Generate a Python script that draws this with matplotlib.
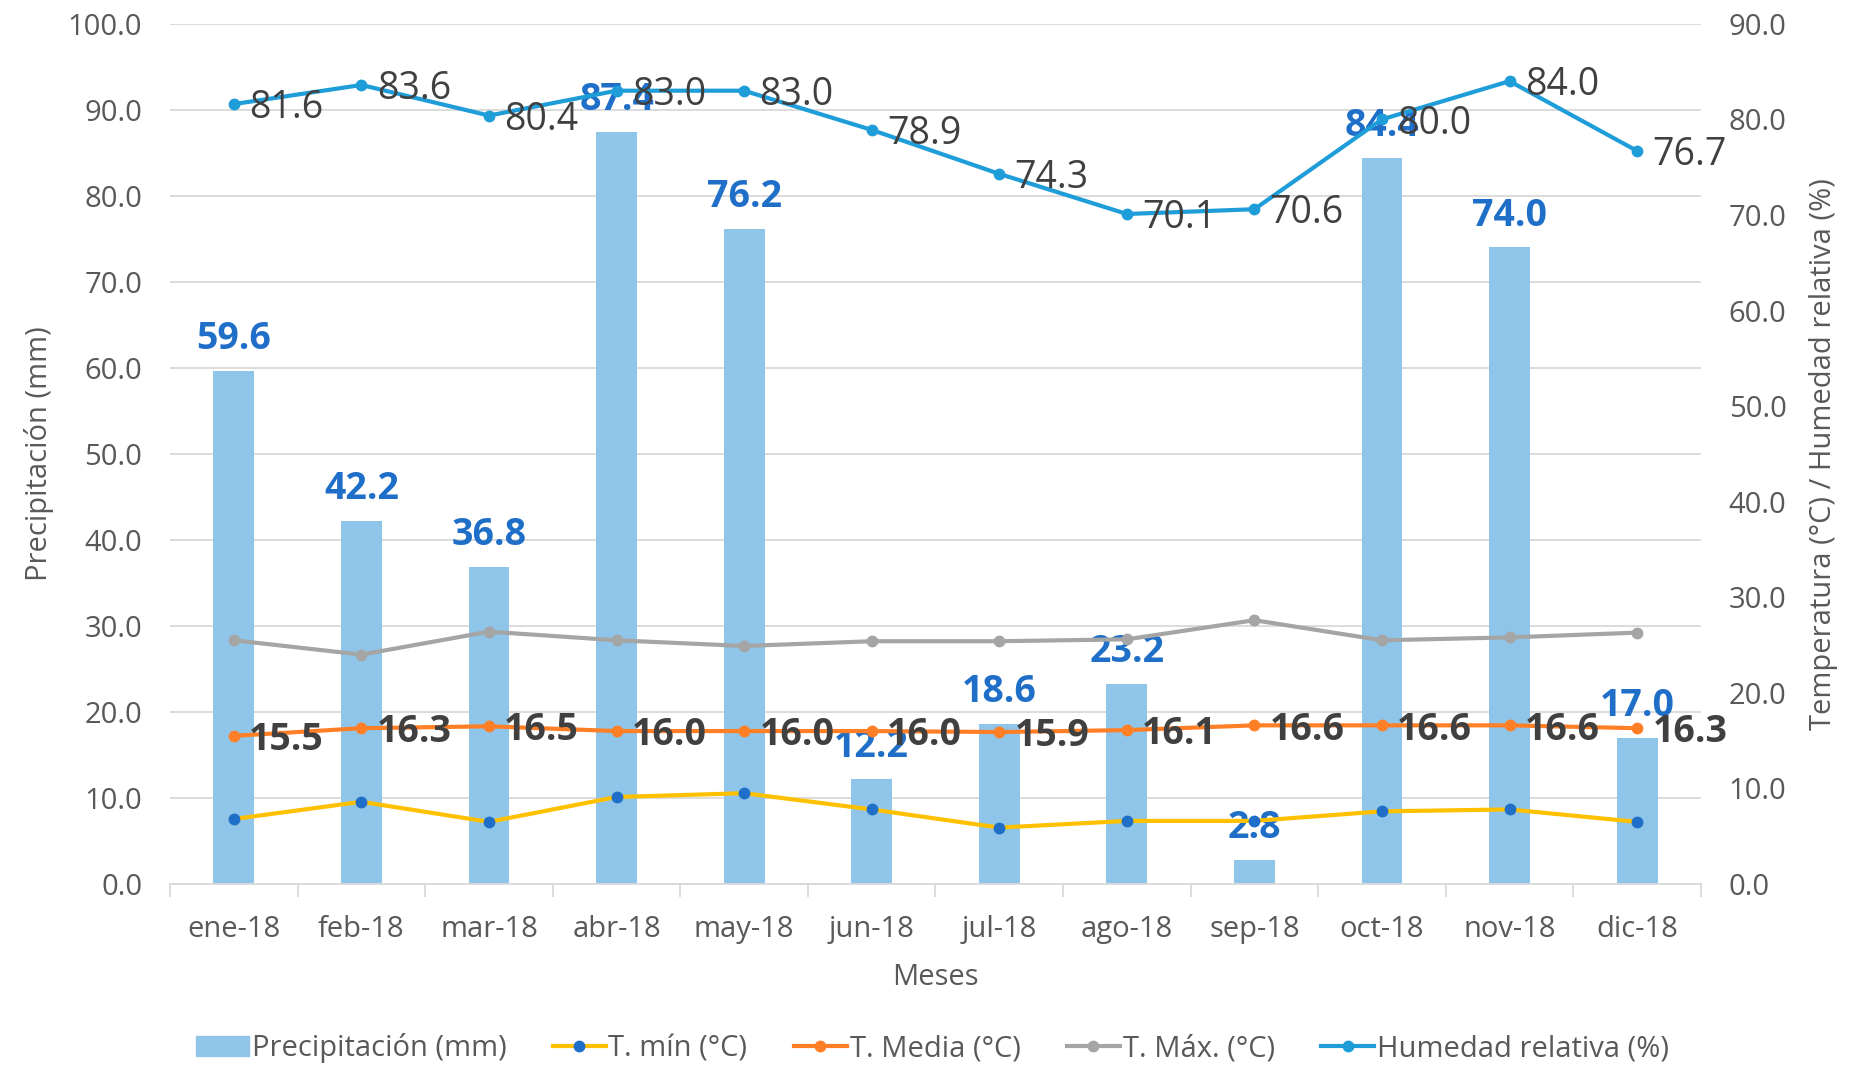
import matplotlib
matplotlib.use("Agg")
import matplotlib.pyplot as plt
import numpy as np
from matplotlib.patches import Patch
from matplotlib.lines import Line2D

plt.rcParams["font.family"] = ["Open Sans", "DejaVu Sans"]

meses = ["ene-18", "feb-18", "mar-18", "abr-18", "may-18", "jun-18",
         "jul-18", "ago-18", "sep-18", "oct-18", "nov-18", "dic-18"]
precip = [59.6, 42.2, 36.8, 87.4, 76.2, 12.2, 18.6, 23.2, 2.8, 84.4, 74.0, 17.0]
t_min = [6.8, 8.6, 6.5, 9.1, 9.5, 7.8, 5.9, 6.6, 6.6, 7.6, 7.8, 6.5]
t_media = [15.5, 16.3, 16.5, 16.0, 16.0, 16.0, 15.9, 16.1, 16.6, 16.6, 16.6, 16.3]
t_max = [25.5, 24.0, 26.4, 25.5, 24.9, 25.4, 25.4, 25.6, 27.6, 25.5, 25.8, 26.3]
humedad = [81.6, 83.6, 80.4, 83.0, 83.0, 78.9, 74.3, 70.1, 70.6, 80.0, 84.0, 76.7]

C_BAR = "#8FC5E8"
C_BARLBL = "#1F6FC8"
C_MIN = "#FFC000"
C_MINMK = "#1F6FC8"
C_MED = "#FF7F27"
C_MAX = "#A5A5A5"
C_HUM = "#1E9DD9"
C_TXT = "#595959"
C_LBL = "#404040"
C_GRID = "#D9D9D9"

FS = 21      # ticks, axis titles, legend
FS_LBL = 27  # data labels

x = np.arange(len(meses))

fig = plt.figure(figsize=(18.65, 10.82), dpi=100)
ax = fig.add_axes([0.0912, 0.183, 0.8208, 0.795])
ax2 = ax.twinx()

# bars on primary axis
ax.bar(x, precip, width=0.32, color=C_BAR, zorder=2)
for xi, v in zip(x, precip):
    ax.annotate(f"{v:.1f}", (xi, v), xytext=(0, 23), textcoords="offset points",
                ha="center", va="center", fontsize=FS_LBL, fontweight="bold",
                color=C_BARLBL, zorder=3)

ax.set_xlim(-0.5, len(meses) - 0.5)
ax.set_ylim(0, 100)
ax.set_yticks(np.arange(0, 101, 10))
ax.set_yticklabels([f"{v:.1f}" for v in np.arange(0, 101, 10)])
ax.yaxis.grid(True, color=C_GRID, linewidth=1.3, zorder=0)
ax.set_axisbelow(True)
ax.set_xticks(x)
ax.set_xticklabels(meses)
ax.set_xticks(np.arange(-0.5, len(meses)), minor=True)
ax.tick_params(axis="x", which="major", length=0, pad=22, labelsize=FS, labelcolor=C_TXT)
ax.tick_params(axis="x", which="minor", length=9, width=1.3, color=C_GRID)
ax.tick_params(axis="y", length=0, pad=20, labelsize=FS, labelcolor=C_TXT)
for s in ["top", "left", "right"]:
    ax.spines[s].set_visible(False)
ax.spines["bottom"].set_color(C_GRID)
ax.spines["bottom"].set_linewidth(1.3)
ax.set_ylabel("Precipitación (mm)", fontsize=FS, color=C_TXT, labelpad=10)
ax.set_xlabel("Meses", fontsize=FS, color=C_TXT, labelpad=14)

# lines on secondary axis
lw, ms = 3.0, 7.5
ax2.plot(x, t_min, color=C_MIN, lw=lw, marker="o", ms=ms,
         mfc=C_MINMK, mec=C_MINMK, zorder=3)
ax2.plot(x, t_media, color=C_MED, lw=lw, marker="o", ms=ms, zorder=3)
ax2.plot(x, t_max, color=C_MAX, lw=lw, marker="o", ms=ms, zorder=3)
ax2.plot(x, humedad, color=C_HUM, lw=lw, marker="o", ms=ms, zorder=3)

for xi, v in zip(x, t_media):
    ax2.annotate(f"{v:.1f}", (xi, v), xytext=(11, -3), textcoords="offset points",
                 ha="left", va="center", fontsize=FS_LBL, fontweight="bold", color=C_LBL)
for xi, v in zip(x, humedad):
    ax2.annotate(f"{v:.1f}", (xi, v), xytext=(11, -3), textcoords="offset points",
                 ha="left", va="center", fontsize=FS_LBL, color=C_LBL)

ax2.set_ylim(0, 90)
ax2.set_yticks(np.arange(0, 91, 10))
ax2.set_yticklabels([f"{v:.1f}" for v in np.arange(0, 91, 10)])
ax2.tick_params(axis="y", length=0, pad=20, labelsize=FS, labelcolor=C_TXT)
for s in ["top", "left", "right", "bottom"]:
    ax2.spines[s].set_visible(False)
ax2.set_ylabel("Temperatura (°C) / Humedad relativa (%)", fontsize=FS,
               color=C_TXT, labelpad=16)

handles = [
    Patch(color=C_BAR),
    Line2D([], [], color=C_MIN, lw=lw, marker="o", ms=ms, mfc=C_MINMK, mec=C_MINMK),
    Line2D([], [], color=C_MED, lw=lw, marker="o", ms=ms),
    Line2D([], [], color=C_MAX, lw=lw, marker="o", ms=ms),
    Line2D([], [], color=C_HUM, lw=lw, marker="o", ms=ms),
]
labels = ["Precipitación (mm)", "T. mín (°C)", "T. Media (°C)", "T. Máx. (°C)",
          "Humedad relativa (%)"]
leg = fig.legend(handles, labels, loc="center", bbox_to_anchor=(0.5, 0.031), ncol=5,
                 frameon=False, fontsize=FS, handlelength=1.8, handletextpad=0.1,
                 columnspacing=1.6)
for t in leg.get_texts():
    t.set_color(C_TXT)

fig.savefig("out.png", dpi=100)
plt.close(fig)
